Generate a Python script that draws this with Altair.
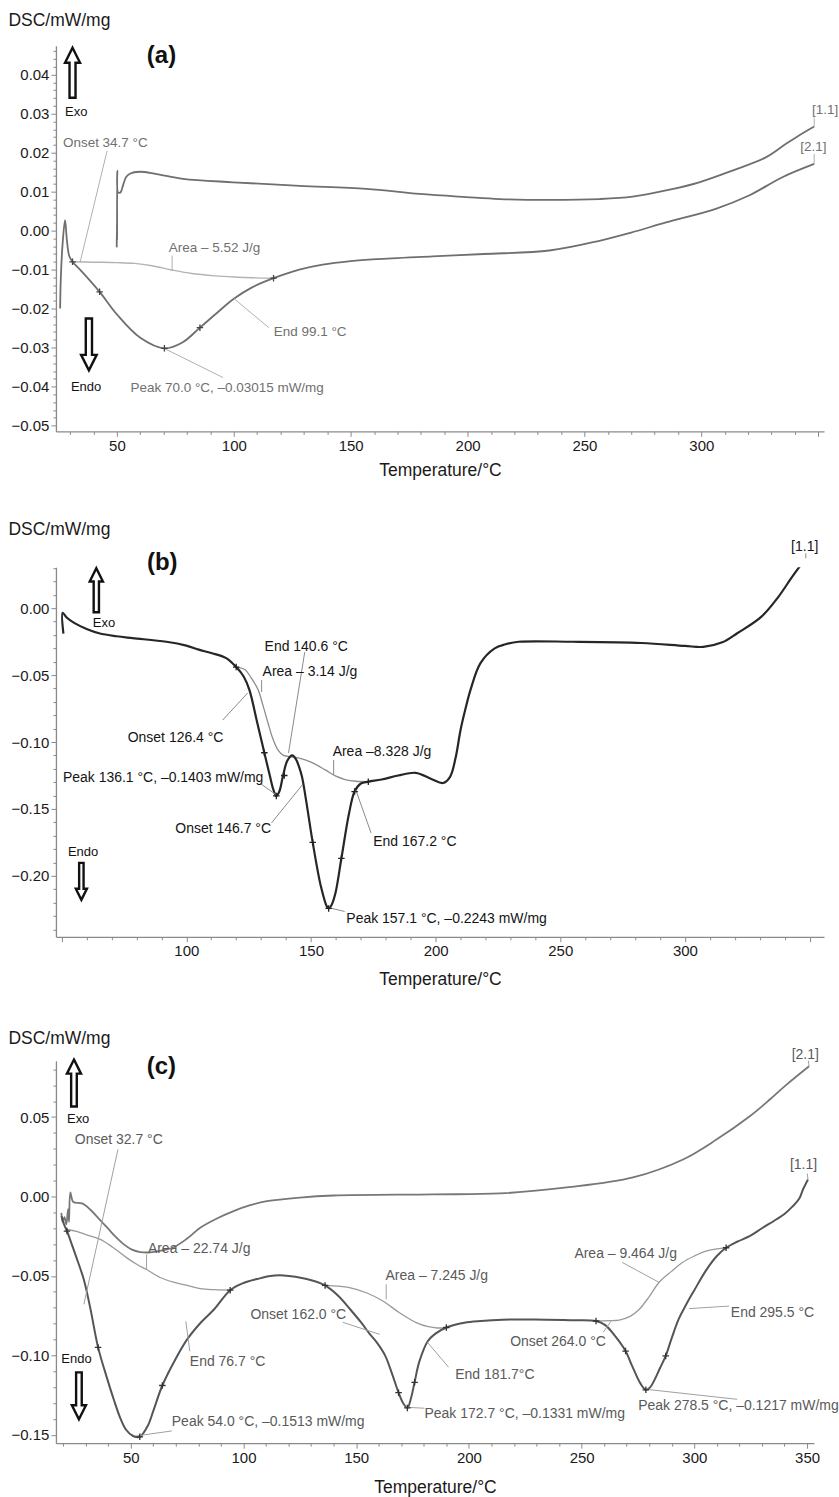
import altair as alt
import pandas as pd

FONT = "Liberation Sans"

# ---------------- Panel (a) ----------------
a11_t = [49.9, 50.0, 50.05, 50.15, 50.5, 51.5, 52.7, 54.0, 55.5, 59.8, 67.0, 78.3, 99.7, 128.2, 156.7,
         179.5, 199.4, 213.7, 235.0, 256.4, 270.6, 284.9, 299.1, 313.3, 327.6, 336.1, 341.8, 348.3]
a11_v = [-0.0043, 0.0015, -0.0025, 0.0154, 0.0098, 0.0098, 0.0118, 0.0138, 0.0146, 0.0151, 0.0145, 0.0133,
         0.0124, 0.0115, 0.0107, 0.0094, 0.0086, 0.0081, 0.0079, 0.0081, 0.0087, 0.0103, 0.0124, 0.0154,
         0.0188, 0.0222, 0.0244, 0.0267]
a21_t = [25.7, 26.0, 26.8, 27.8, 28.6, 29.6, 31.0, 35.0, 42.6, 50.0, 60.0, 70.3, 78.0, 85.5, 93.0, 100.0,
         108.0, 117.0, 128.0, 138.0, 150.0, 161.0, 185.0, 207.0, 235.0, 256.4, 270.0, 284.9, 306.2, 320.4,
         334.7, 348.3]
a21_v = [-0.0200, -0.0120, -0.0030, 0.0027, -0.0025, -0.0065, -0.0080, -0.0105, -0.0157, -0.0215, -0.0275,
         -0.0302, -0.0287, -0.0249, -0.0210, -0.0175, -0.0145, -0.0122, -0.0100, -0.0087, -0.0078, -0.0073,
         -0.0066, -0.0060, -0.0051, -0.0026, -0.0005, 0.0021, 0.0056, 0.0090, 0.0137, 0.0171]
abase_t = [31.0, 40.0, 50.0, 57.5, 65.0, 73.6, 82.0, 92.0, 100.0, 108.0, 117.0]
abase_v = [-0.0080, -0.0081, -0.0082, -0.0084, -0.0090, -0.0101, -0.0110, -0.0116, -0.0119, -0.0121, -0.0122]
a_mark_t = [31.0, 42.6, 70.3, 85.5, 117.0]
a_mark_v = [-0.0080, -0.0157, -0.0302, -0.0249, -0.0122]
a_labels = ["Onset 34.7 °C", "Area – 5.52 J/g", "End 99.1 °C", "Peak 70.0 °C, –0.03015 mW/mg", "[1.1]", "[2.1]"]
a_label_t = [26.9, 72.2, 117.1, 55.8, 347.4, 342.3]
a_label_v = [0.0224, -0.0044, -0.0259, -0.0403, 0.0310, 0.0215]
a_lead = [(45.8, 0.0205, 34.2, -0.0082), (73.6, -0.0064, 73.6, -0.0103), (100.0, -0.0174, 115.0, -0.0249),
          (70.5, -0.0303, 95.4, -0.0377), (348.3, 0.0290, 348.3, 0.0267), (348.3, 0.0197, 348.3, 0.0171)]

# ---------------- Panel (b) ----------------
b11_t = [50.7, 50.4, 52.0, 55.0, 60.0, 65.0, 72.0, 78.5, 92.0, 100.0, 105.0, 110.0, 116.0, 120.0, 123.0,
         125.3, 128.5, 131.3, 133.6, 135.0, 136.1, 137.3, 138.7, 140.5, 142.5, 144.0, 145.3, 146.4, 148.0,
         150.7, 154.0, 156.4, 157.1, 158.2, 159.8, 162.2, 165.3, 167.5, 170.0, 173.0, 178.3, 185.0, 192.0,
         198.3, 203.0, 205.8, 208.0, 210.0, 212.0, 214.0, 218.0, 223.7, 228.0, 233.3, 255.0, 282.6, 300.0,
         307.4, 315.0, 321.0, 330.6, 337.5, 343.0, 348.5]
b11_v = [-0.0190, -0.0035, -0.0070, -0.0110, -0.0155, -0.0187, -0.0210, -0.0224, -0.0251, -0.0280, -0.0310,
         -0.0335, -0.0373, -0.0440, -0.0510, -0.0610, -0.0860, -0.1080, -0.1260, -0.1360, -0.1403, -0.1370,
         -0.1260, -0.1140, -0.1100, -0.1130, -0.1190, -0.1260, -0.1430, -0.1750, -0.2080, -0.2230, -0.2243,
         -0.2220, -0.2130, -0.1870, -0.1530, -0.1370, -0.1310, -0.1296, -0.1280, -0.1250, -0.1230, -0.1276,
         -0.1306, -0.1260, -0.1120, -0.0910, -0.0750, -0.0610, -0.0410, -0.0300, -0.0270, -0.0251, -0.0251,
         -0.0260, -0.0282, -0.0289, -0.0255, -0.0187, -0.0065, 0.0085, 0.0234, 0.0373]
bbase_t = [120.0, 123.6, 126.0, 128.8, 130.8, 132.8, 134.8, 136.8, 139.0, 142.0, 145.3, 150.0, 155.9, 160.0,
           163.7, 168.0, 173.0]
bbase_v = [-0.0440, -0.0460, -0.0520, -0.0610, -0.0730, -0.0860, -0.0980, -0.1060, -0.1100, -0.1110, -0.1120,
           -0.1150, -0.1210, -0.1255, -0.1280, -0.1293, -0.1296]
b_mark_t = [120.0, 131.3, 136.1, 139.3, 150.7, 157.1, 162.2, 167.5, 173.0]
b_mark_v = [-0.0440, -0.1080, -0.1403, -0.1250, -0.1750, -0.2243, -0.1870, -0.1370, -0.1296]
b_labels = ["End 140.6 °C", "Area – 3.14 J/g", "Onset 126.4 °C", "Peak 136.1 °C, –0.1403 mW/mg",
            "Area –8.328 J/g", "Onset 146.7 °C", "End 167.2 °C", "Peak 157.1 °C, –0.2243 mW/mg", "[1.1]"]
b_label_t = [131.4, 130.6, 76.5, 50.5, 158.7, 95.6, 175.0, 164.2, 342.6]
b_label_v = [-0.0291, -0.0478, -0.0970, -0.1269, -0.1075, -0.1650, -0.1744, -0.2321, 0.0457]
b_lead = [(147.5, -0.0328, 141.0, -0.1082), (130.2, -0.0537, 130.2, -0.0627), (114.6, -0.0836, 124.6, -0.0634),
          (129.4, -0.1306, 136.2, -0.1396), (159.1, -0.1134, 159.1, -0.1246), (134.2, -0.1604, 146.5, -0.1321),
          (174.1, -0.1679, 168.0, -0.1358), (157.5, -0.2239, 163.5, -0.2266), (348.5, 0.0410, 348.5, 0.0373)]

# ---------------- Panel (c) ----------------
c21_t = [19.2, 19.8, 20.6, 21.4, 22.2, 22.6, 23.2, 24.5, 28.4, 32.0, 35.5, 39.5, 43.0, 46.8, 50.5, 54.2, 58.7,
         64.0, 69.0, 75.0, 80.8, 88.0, 95.6, 103.0, 110.4, 125.0, 140.0, 184.0, 213.8, 243.4, 272.8, 295.0,
         309.8, 324.6, 333.5, 340.9, 350.9]
c21_v = [-0.0103, -0.0160, -0.0130, -0.0176, -0.0080, -0.0160, 0.0025, -0.0035, -0.0044, -0.0082, -0.0135,
         -0.0195, -0.0250, -0.0300, -0.0335, -0.0350, -0.0352, -0.0340, -0.0320, -0.0265, -0.0197, -0.0140,
         -0.0092, -0.0055, -0.0030, -0.0007, 0.0006, 0.0013, 0.0019, 0.0057, 0.0120, 0.0233, 0.0358, 0.0505,
         0.0610, 0.0704, 0.0820]
c11_t = [19.3, 20.0, 20.8, 21.7, 25.4, 29.1, 32.0, 35.5, 39.6, 42.5, 45.5, 48.0, 51.0, 54.0, 57.5, 60.0, 64.0,
         70.0, 75.0, 81.0, 87.0, 94.1, 100.0, 106.0, 112.0, 117.8, 123.0, 128.1, 132.0, 136.2, 142.0, 147.3,
         152.0, 155.7, 159.2, 162.8, 166.0, 168.8, 171.0, 172.7, 174.3, 175.9, 178.0, 181.8, 185.0, 190.0,
         198.0, 205.4, 215.0, 229.2, 245.0, 256.4, 260.5, 264.8, 269.5, 272.5, 276.0, 278.5, 280.5, 282.5,
         284.8, 287.3, 290.0, 293.0, 296.4, 300.0, 305.2, 310.0, 314.1, 319.0, 324.5, 330.0, 336.3, 340.0,
         343.7, 346.5, 348.2, 350.4]
c11_v = [-0.0124, -0.0160, -0.0190, -0.0218, -0.0365, -0.0520, -0.0700, -0.0950, -0.1150, -0.1280, -0.1400,
         -0.1470, -0.1508, -0.1513, -0.1445, -0.1350, -0.1190, -0.1020, -0.0900, -0.0795, -0.0710, -0.0590,
         -0.0545, -0.0520, -0.0500, -0.0497, -0.0505, -0.0520, -0.0535, -0.0560, -0.0625, -0.0710, -0.0790,
         -0.0860, -0.0920, -0.1000, -0.1120, -0.1235, -0.1305, -0.1331, -0.1270, -0.1170, -0.1040, -0.0910,
         -0.0865, -0.0825, -0.0795, -0.0784, -0.0776, -0.0774, -0.0779, -0.0784, -0.0810, -0.0878, -0.0973,
         -0.1070, -0.1175, -0.1217, -0.1200, -0.1150, -0.1080, -0.1004, -0.0890, -0.0774, -0.0680, -0.0590,
         -0.0465, -0.0375, -0.0323, -0.0285, -0.0250, -0.0200, -0.0145, -0.0110, -0.0061, -0.0015, 0.0044,
         0.0107]
cbase1_t = [21.7, 26.0, 31.0, 36.5, 42.0, 48.1, 53.0, 57.0, 63.0, 69.0, 75.0, 80.8, 87.0, 94.1]
cbase1_v = [-0.0208, -0.0220, -0.0245, -0.0270, -0.0320, -0.0385, -0.0430, -0.0460, -0.0510, -0.0540, -0.0560,
            -0.0580, -0.0587, -0.0590]
cbase2_t = [136.2, 142.0, 147.0, 154.5, 161.8, 169.2, 176.6, 182.0, 186.0, 190.0]
cbase2_v = [-0.0560, -0.0565, -0.0574, -0.0606, -0.0658, -0.0732, -0.0794, -0.0820, -0.0828, -0.0825]
cbase3_t = [256.4, 262.0, 266.7, 271.5, 275.6, 280.0, 284.4, 290.0, 294.7, 300.0, 305.1, 310.0, 314.1]
cbase3_v = [-0.0784, -0.0782, -0.0778, -0.0755, -0.0710, -0.0630, -0.0540, -0.0470, -0.0416, -0.0375, -0.0344,
            -0.0330, -0.0323]
c_mark_t = [21.7, 35.5, 54.0, 64.0, 94.1, 136.2, 168.8, 172.7, 175.9, 190.0, 256.4, 269.5, 278.5, 287.3, 314.1]
c_mark_v = [-0.0218, -0.0950, -0.1513, -0.1190, -0.0590, -0.0560, -0.1235, -0.1331, -0.1170, -0.0825, -0.0784,
            -0.0973, -0.1217, -0.1004, -0.0323]
c_labels = ["Onset 32.7 °C", "Area – 22.74 J/g", "Area – 7.245 J/g", "Onset 162.0 °C", "End 181.7°C",
            "End 76.7 °C", "Peak 54.0 °C, –0.1513 mW/mg", "Peak 172.7 °C, –0.1331 mW/mg", "Onset 264.0 °C",
            "End 295.5 °C", "Area – 9.464 J/g", "Peak 278.5 °C, –0.1217 mW/mg", "[2.1]", "[1.1]"]
c_label_t = [25.2, 57.6, 163.0, 103.1, 193.9, 76.2, 68.2, 180.3, 218.3, 316.2, 246.8, 275.1, 343.2, 342.4]
c_label_v = [0.0354, -0.0333, -0.0501, -0.0747, -0.1126, -0.1044, -0.1421, -0.1371, -0.0918, -0.0736, -0.0365,
             -0.1319, 0.0893, 0.0201]
c_lead = [(44.3, 0.0296, 29.2, -0.0679), (57.0, -0.0365, 57.0, -0.0459), (163.3, -0.0553, 163.3, -0.0648),
          (144.0, -0.0792, 160.4, -0.0868), (191.0, -0.1075, 181.6, -0.0918), (76.2, -0.0975, 74.4, -0.0786),
          (52.2, -0.1508, 68.2, -0.1476), (171.9, -0.1327, 180.3, -0.1333), (259.6, -0.0855, 263.1, -0.0784),
          (315.4, -0.0690, 297.7, -0.0706), (268.0, -0.0415, 284.4, -0.0541), (278.7, -0.1214, 319.0, -0.1277),
          (350.6, 0.0855, 350.9, 0.0820), (350.1, 0.0145, 350.4, 0.0107)]

UP = "M0,-1L0.3,-0.4L0.12,-0.4L0.12,1L-0.12,1L-0.12,-0.4L-0.3,-0.4Z"
DOWN = "M0,1L0.3,0.4L0.12,0.4L0.12,-1L-0.12,-1L-0.12,0.4L-0.3,0.4Z"
PLUS = "M-1,0L1,0M0,-1L0,1"


def ylabel_expr(mult):
    test = f"abs(datum.value*{mult} - round(datum.value*{mult})) < 1e-6"
    return test, f"{test} ? replace(format(datum.value, '.2f'), '-', '\u2013') : ''"


def make_panel(p):
    ytest, yexpr = ylabel_expr(p["ymult"])
    xtest = "datum.value % 50 === 0"
    xlab = f"datum.value % 50 === 0 && datum.value >= {p['xlab'][0]} && datum.value <= {p['xlab'][1]}"
    xaxis = alt.Axis(values=p["xticks"], labelExpr=f"{xlab} ? format(datum.value, 'd') : ''",
                     tickSize={"condition": {"test": xtest, "value": 5}, "value": 3},
                     labelOverlap=False, labelFlush=False, title="Temperature/°C",
                     titleY=p["xtitle_y"], titleBaseline="middle", grid=False)
    yaxis = alt.Axis(values=p["yticks"], labelExpr=yexpr,
                     tickSize={"condition": {"test": ytest, "value": 5}, "value": 3},
                     labelOverlap=False, labelFlush=False, title="DSC/mW/mg", titleAngle=0,
                     titleAlign="left", titleBaseline="middle", titleX=-48, titleY=p["ytitle_y"], grid=False)
    X = alt.X("T:Q", scale=alt.Scale(domain=p["xdom"], nice=False, zero=False), axis=xaxis)
    Y = alt.Y("V:Q", scale=alt.Scale(domain=p["ydom"], nice=False, zero=False), axis=yaxis)

    layers = []
    for ts, vs, color, width in p["curves"]:
        df = pd.DataFrame({"T": ts, "V": vs, "i": list(range(len(ts)))})
        layers.append(alt.Chart(df).mark_line(color=color, strokeWidth=width, clip=True,
                                              interpolate="catmull-rom")
                      .encode(x=X, y=Y, order=alt.Order("i:Q")))
    lead = pd.DataFrame(p["lead"], columns=["T", "V", "T2", "V2"])
    layers.append(alt.Chart(lead).mark_rule(color=p["lead_color"], strokeWidth=1)
                  .encode(x=X, y=Y, x2="T2:Q", y2="V2:Q"))
    mk = pd.DataFrame({"T": p["mark_t"], "V": p["mark_v"]})
    layers.append(alt.Chart(mk).mark_point(shape=PLUS, size=42, filled=False, color=p["mark_color"],
                                           strokeWidth=1.3, opacity=1)
                  .encode(x=X, y=Y))
    tx = pd.DataFrame({"T": p["label_t"], "V": p["label_v"], "label": p["labels"]})
    layers.append(alt.Chart(tx).mark_text(align="left", baseline="middle", font=FONT,
                                          fontSize=p["fs"], color=p["text_color"])
                  .encode(x=X, y=Y, text="label:N"))
    lt = pd.DataFrame({"T": [p["letter"][1]], "V": [p["letter"][2]], "label": [p["letter"][0]]})
    layers.append(alt.Chart(lt).mark_text(align="left", baseline="middle", font=FONT, fontSize=24,
                                          fontWeight="bold", color="#111")
                  .encode(x=X, y=Y, text="label:N"))
    ee = pd.DataFrame({"T": p["ee_t"], "V": p["ee_v"], "label": ["Exo", "Endo"]})
    layers.append(alt.Chart(ee).mark_text(align="left", baseline="middle", font=FONT, fontSize=13,
                                          color="#111")
                  .encode(x=X, y=Y, text="label:N"))
    for shape, (t, v, sz) in ((UP, p["up"]), (DOWN, p["down"])):
        ar = pd.DataFrame({"T": [t], "V": [v]})
        layers.append(alt.Chart(ar).mark_point(shape=shape, size=sz, fill="white", stroke="#111",
                                               strokeWidth=2.4, fillOpacity=1, strokeOpacity=1)
                      .encode(x=X, y=Y))
    return alt.layer(*layers).properties(width=p["w"], height=p["h"])


pa = make_panel(dict(
    xdom=[23.9, 352.5], ydom=[-0.0515, 0.0474], w=769, h=386, ymult=100, xlab=(50, 300),
    xticks=list(range(30, 351, 10)), yticks=[round(-0.050 + 0.002 * k, 3) for k in range(49)],
    xtitle_y=39, ytitle_y=-25,
    curves=[(abase_t, abase_v, "#b3b3b3", 1.4), (a11_t, a11_v, "#6f6f6f", 1.8), (a21_t, a21_v, "#6f6f6f", 1.8)],
    lead=a_lead, lead_color="#b0b0b0", mark_t=a_mark_t, mark_v=a_mark_v, mark_color="#444",
    labels=a_labels, label_t=a_label_t, label_v=a_label_v, fs=13.5, text_color="#707070",
    letter=("(a)", 62.8, 0.0449), ee_t=[27.8, 30.3], ee_v=[0.0303, -0.0400],
    up=(31.0, 0.0405, 2500), down=(38.0, -0.0292, 2700)))

pb = make_panel(dict(
    xdom=[47.7, 355.8], ydom=[-0.2455, 0.0306], w=769, h=370, ymult=20, xlab=(100, 300),
    xticks=list(range(50, 351, 10)), yticks=[round(-0.24 + 0.01 * k, 2) for k in range(28)],
    xtitle_y=43, ytitle_y=-38,
    curves=[(bbase_t, bbase_v, "#8c8c8c", 1.3), (b11_t, b11_v, "#262626", 2.2)],
    lead=b_lead, lead_color="#8a8a8a", mark_t=b_mark_t, mark_v=b_mark_v, mark_color="#222",
    labels=b_labels, label_t=b_label_t, label_v=b_label_v, fs=14, text_color="#151515",
    letter=("(b)", 84.2, 0.0336), ee_t=[62.5, 52.5], ee_v=[-0.0112, -0.1820],
    up=(63.9, 0.0134, 1936), down=(57.9, -0.2041, 1369)))

pc = make_panel(dict(
    xdom=[16.8, 353.1], ydom=[-0.1553, 0.0855], w=759, h=383, ymult=20, xlab=(50, 350),
    xticks=list(range(20, 351, 10)), yticks=[round(-0.15 + 0.01 * k, 2) for k in range(24)],
    xtitle_y=44, ytitle_y=-22,
    curves=[(cbase1_t, cbase1_v, "#9a9a9a", 1.3), (cbase2_t, cbase2_v, "#9a9a9a", 1.3),
            (cbase3_t, cbase3_v, "#9a9a9a", 1.3), (c21_t, c21_v, "#777777", 1.8), (c11_t, c11_v, "#555555", 2.0)],
    lead=c_lead, lead_color="#a0a0a0", mark_t=c_mark_t, mark_v=c_mark_v, mark_color="#333",
    labels=c_labels, label_t=c_label_t, label_v=c_label_v, fs=14, text_color="#5a5a5a",
    letter=("(c)", 57.1, 0.0818), ee_t=[21.7, 19.2], ee_v=[0.0490, -0.1025],
    up=(24.8, 0.0714, 2209), down=(27.0, -0.1255, 2209)))

chart = alt.vconcat(pa, pb, pc, spacing=41).properties(
    padding={"left": 8, "top": 11, "right": 0, "bottom": 4}
).configure(background="white", font=FONT).configure_view(stroke=None).configure_axis(
    labelFont=FONT, titleFont=FONT, labelFontSize=15, titleFontSize=17.5, titleFontWeight="normal",
    labelColor="#1a1a1a", titleColor="#1a1a1a", domainColor="#8a8a8a", domainWidth=1.3,
    tickColor="#8a8a8a", tickWidth=1, labelPadding=2
)

chart.save("out.html", embed_options={"renderer": "svg", "actions": False})
